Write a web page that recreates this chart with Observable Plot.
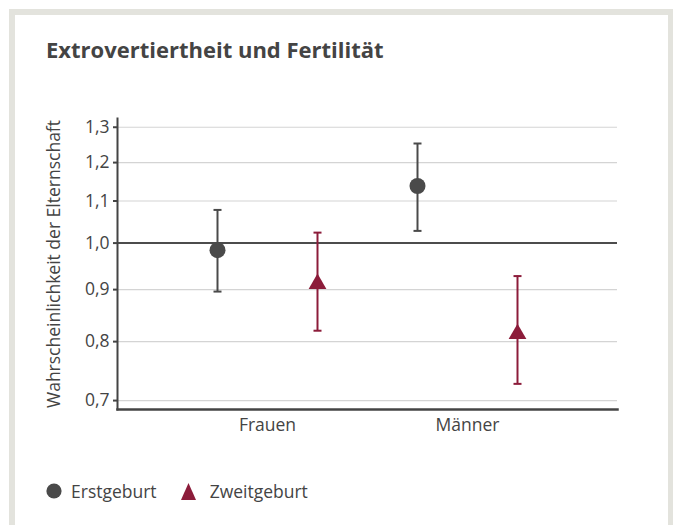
<!DOCTYPE html>
<html><head><meta charset="utf-8">
<script src="https://cdn.jsdelivr.net/npm/d3@7"></script>
<script src="https://cdn.jsdelivr.net/npm/@observablehq/plot@0.6"></script>
<style>
body{margin:0;background:#fff;font-family:"Open Sans",sans-serif;color:#444;}
#frame{position:absolute;left:9px;top:9px;width:653px;height:540px;border:6px solid #e3e3dd;border-bottom:none;background:#fff;}
#title{position:absolute;left:46px;top:35px;font-weight:bold;font-size:22px;line-height:28px;color:#444;white-space:nowrap;}
#chart{position:absolute;left:0;top:100px;}
#legend{position:absolute;left:46px;top:478px;display:flex;align-items:center;font-size:17.5px;line-height:26px;color:#444;}
#legend .item{display:flex;align-items:center;margin-right:24px;}
#legend .circle svg{margin-right:9px;}
#legend .triangle svg{margin-right:14px;}
</style>
</head><body>
<div id="frame"></div>
<div id="title">Extrovertiertheit und Fertilität</div>
<div id="chart"></div>
<div id="legend"></div>
<script>
const groups = ["Frauen", "Männer"];
const series = ["Erstgeburt", "Zweitgeburt"];
const erstEstimate = [0.984, 1.138];
const erstLower = [0.896, 1.028];
const erstUpper = [1.078, 1.253];
const zweitEstimate = [0.912, 0.814];
const zweitLower = [0.820, 0.727];
const zweitUpper = [1.024, 0.928];
const yTicks = [0.7, 0.8, 0.9, 1.0, 1.1, 1.2, 1.3];
const yDomain = [0.686, 1.326];
const colors = {"Erstgeburt": "#4a4a4a", "Zweitgeburt": "#8c1c3a"};
const symbols = {"Erstgeburt": "circle", "Zweitgeburt": "triangle"};
const offsets = {"Erstgeburt": -50, "Zweitgeburt": 50};
const radii = {"Erstgeburt": 8, "Zweitgeburt": 6.6};

const sets = {
  "Erstgeburt": [erstEstimate, erstLower, erstUpper],
  "Zweitgeburt": [zweitEstimate, zweitLower, zweitUpper]
};
const fmt = d => d.toFixed(1).replace(".", ",");
const capSymbol = {
  draw(context, size) {
    const r = Math.sqrt(size / Math.PI);
    context.moveTo(-r, 0);
    context.lineTo(r, 0);
  }
};

const marks = [
  Plot.ruleY(yTicks.filter(d => d !== 1), {stroke: "#d4d4d4", strokeWidth: 1.2}),
  Plot.ruleY([1], {stroke: "#111", strokeWidth: 1.5})
];
for (const s of series) {
  const [est, lo, hi] = sets[s];
  const rows = groups.map((g, i) => ({group: g, series: s, est: est[i], lo: lo[i], hi: hi[i]}));
  const c = colors[s];
  const dx = offsets[s];
  marks.push(Plot.ruleX(rows, {x: "group", y1: "lo", y2: "hi", stroke: c, strokeWidth: 2, dx}));
  marks.push(Plot.dot(rows, {x: "group", y: "lo", symbol: capSymbol, r: 4, fill: "none", stroke: c, strokeWidth: 2, dx}));
  marks.push(Plot.dot(rows, {x: "group", y: "hi", symbol: capSymbol, r: 4, fill: "none", stroke: c, strokeWidth: 2, dx}));
  marks.push(Plot.dot(rows, {x: "group", y: "est", symbol: symbols[s], fill: c, r: radii[s], stroke: "none", dx}));
}
// axes
marks.push(Plot.axisY(yTicks, {
  tickSize: 4, tickFormat: () => "", stroke: "#444", strokeWidth: 2, color: "#444",
  label: "Wahrscheinlichkeit der Elternschaft", labelAnchor: "center", labelOffset: 70, labelArrow: "none"
}));
marks.push(Plot.text(yTicks, {y: d => d, text: fmt, frameAnchor: "left", textAnchor: "end", dx: -8, fill: "#444"}));
marks.push(Plot.axisX({tickSize: 0, tickPadding: 9, color: "#444", label: null}));
marks.push(Plot.frame({anchor: "left", stroke: "#444", strokeWidth: 2}));
marks.push(Plot.frame({anchor: "bottom", stroke: "#444", strokeWidth: 2.5}));

const plot = Plot.plot({
  width: 673, height: 350,
  marginLeft: 117, marginRight: 56, marginTop: 18, marginBottom: 41,
  style: {fontFamily: "Open Sans", fontSize: "17.5px", color: "#444", background: "transparent"},
  x: {type: "point", domain: groups, padding: 0.75},
  y: {type: "log", domain: yDomain},
  marks
});
document.getElementById("chart").appendChild(plot);

const legend = document.getElementById("legend");
for (const s of series) {
  const item = document.createElement("div");
  item.className = "item " + symbols[s];
  const shape = symbols[s] === "circle"
    ? `<svg width="16" height="16"><circle cx="8" cy="8" r="7.6" fill="${colors[s]}"/></svg>`
    : `<svg width="15" height="17"><path d="M7.5 0 L15 17 L0 17 Z" fill="${colors[s]}"/></svg>`;
  item.innerHTML = `${shape}<span>${s}</span>`;
  legend.appendChild(item);
}
</script>
</body></html>
